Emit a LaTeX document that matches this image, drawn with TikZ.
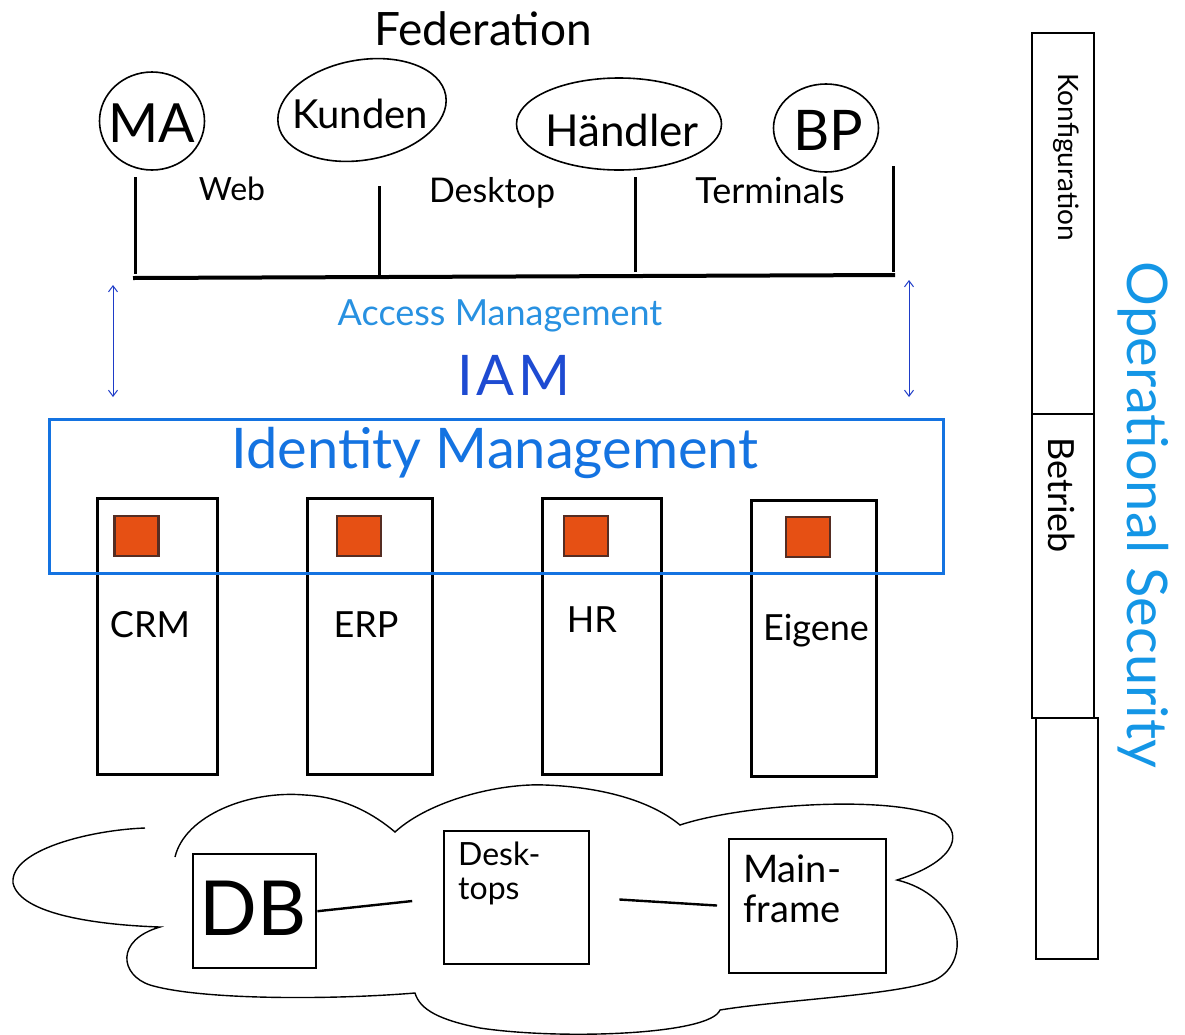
\documentclass[tikz,border=0pt]{standalone}
\usepackage{fontspec}
\setmainfont{Lato}
\usetikzlibrary{arrows.meta,calc,shapes.geometric}
\definecolor{imblue}{RGB}{20,115,225}
\definecolor{amblue}{RGB}{40,145,225}
\definecolor{iamblue}{RGB}{30,75,210}
\definecolor{arrblue}{RGB}{30,60,200}
\definecolor{osblue}{RGB}{20,150,230}
\definecolor{sqfill}{RGB}{230,80,20}
\definecolor{sqdraw}{RGB}{85,45,35}
\newcommand\myfs[1]{\fontsize{#1}{#1}\selectfont}
\newcommand\myfsb[2]{\fontsize{#1}{#2}\selectfont}
\begin{document}
\begin{tikzpicture}[x=1pt,y=-1pt,
  txt/.style={inner sep=0pt, outer sep=0pt, anchor=base},
  pers/.style={draw, ellipse, line width=1.6pt, inner sep=0pt},
  appbox/.style={draw, line width=2.6pt, minimum width=120, minimum height=276, anchor=north west, inner sep=0pt},
  sq/.style={draw=sqdraw, fill=sqfill, line width=2.5pt, minimum width=44, minimum height=40, inner sep=0pt},
  cbox/.style={draw, line width=2.4pt, anchor=north west, inner sep=0pt},
  side/.style={draw, line width=1.8pt, minimum width=62, anchor=north west, inner sep=0pt},
  link/.style={line width=2.4pt},
  vline/.style={line width=3pt},
  biarrow/.style={arrblue, line width=1pt, {Straight Barb[length=6pt,width=9pt]}-{Straight Barb[length=6pt,width=9pt]}}
]
\fill[white] (0,0) rectangle (1185,1034);
\useasboundingbox (0,0) rectangle (1185,1034);

% Federation
\node[txt] (fed) at (483,45) {\myfs{46}Federation};
\node[pers, minimum width=105, minimum height=98] (maC) at (152,121) {};
\node[txt] (ma) at (152,142) {\myfs{54}MA};
\node[pers, minimum width=170, minimum height=100, rotate=10] (kuC) at (362,110) {};
\node[txt] (ku) at (360,128) {\myfs{40}Kunden};
\node[pers, minimum width=205, minimum height=92] (haC) at (619,124) {};
\node[txt] (ha) at (622,146) {\myfs{44}Händler};
\node[pers, minimum width=105, minimum height=88] (bpC) at (826,128) {};
\node[txt] (bp) at (828,150) {\myfs{56}BP};

% Access layer
\draw[vline] (135,177) -- (135,274);
\draw[vline] (379,186) -- (379,278);
\draw[vline] (635,177) -- (635,272);
\draw[vline] (893,166) -- (893,272);
\draw[line width=4pt] (133,278) -- (895,275);
\node[txt] (web) at (232,200) {\myfs{32}Web};
\node[txt] (desk) at (492,202) {\myfs{34}Desktop};
\node[txt] (term) at (770,203) {\myfs{36}Terminals};

\node[txt, text=amblue] (am) at (500,325) {\myfs{36}Access Management};
\node[txt, text=iamblue] (iam) at (514,395) {\myfs{56}I\kern4pt A\kern4pt M};

% Application boxes
\node[appbox] (crm) at (96,497) {};
\node[appbox, minimum width=125] (erp) at (306,497) {};
\node[appbox, minimum width=119] (hr) at (541,497) {};
\node[appbox, minimum width=125] (eig) at (750,499) {};
\node[sq] (crmsq) at (136.5,536) {};
\node[sq] (erpsq) at (359,536) {};
\node[sq] (hrsq) at (586,536) {};
\node[sq] (eigsq) at (808,537) {};
\node[txt] (crmt) at (150,637) {\myfs{36}CRM};
\node[txt] (erpt) at (366,637) {\myfs{36}ERP};
\node[txt] (hrt) at (592,632) {\myfs{36}HR};
\node[txt] (eigt) at (816,640) {\myfs{36}Eigene};

% Identity management
\node[draw=imblue, line width=3pt, minimum width=894, minimum height=154, anchor=north west, inner sep=0pt] (idm) at (48,418) {};
\node[txt, text=imblue] (idmt) at (495,468) {\myfs{56}Identity Management};

% arrows
\coordinate (aL1) at (113,285);
\coordinate (aL2) at (113,397);
\coordinate (aR1) at (909,280);
\coordinate (aR2) at (909,397);
\draw[biarrow] (aL1) -- (aL2);
\draw[biarrow] (aR1) -- (aR2);

% Cloud
\draw[line width=1.4pt]
  (175,857) .. controls (185,815) and (250,790) .. (305,795)
  .. controls (345,797) and (375,815) .. (395,832)
  .. controls (430,800) and (500,783) .. (545,785)
  .. controls (600,787) and (650,800) .. (680,825)
  .. controls (740,805) and (880,795) .. (935,815)
  .. controls (965,830) and (960,860) .. (897,880)
  .. controls (960,895) and (975,960) .. (935,980)
  .. controls (900,995) and (780,1000) .. (720,1010)
  .. controls (710,1035) and (560,1040) .. (480,1028)
  .. controls (440,1020) and (420,1010) .. (415,993)
  .. controls (330,1000) and (200,1000) .. (150,985)
  .. controls (120,975) and (115,940) .. (160,927)
  .. controls (100,925) and (20,915) .. (13,883)
  .. controls (10,850) and (90,830) .. (145,828);

\node[cbox, minimum width=123, minimum height=114] (db) at (192,853) {};
\node[cbox, minimum width=145, minimum height=133] (dt) at (443,830) {};
\node[cbox, minimum width=157, minimum height=134] (mf) at (728,838) {};
\node[txt] (dbt) at (253,935) {\myfs{76}DB};
\node[inner sep=0pt, align=left, anchor=north west, font=\myfsb{32}{34}] (dtt) at (458,842) {Desk-\\tops};
\node[inner sep=0pt, align=left, anchor=north west, font=\myfsb{38}{40}] (mft) at (743,855) {Main-\\frame};
\draw[link, shorten >=31pt] (db.east) -- (dt.west);
\draw[link, shorten <=29pt, shorten >=11pt] (dt.east) -- (mf.west);

% Right column
\node[side, minimum height=381] (konf) at (1031,32) {};
\node[side, minimum height=304] (betr) at (1031,413) {};
\node[side, minimum height=241] (rest) at (1035,717) {};
\node[inner sep=0pt, rotate=-90] (konft) at (1066,157) {\myfs{28}Konfiguration};
\node[inner sep=0pt, rotate=-90] (betrt) at (1062,495) {\myfs{36}Betrieb};
\node[inner sep=0pt, rotate=-90, text=osblue] (ost) at (1143,515) {\myfs{56}Operational Security};
\end{tikzpicture}
\end{document}
